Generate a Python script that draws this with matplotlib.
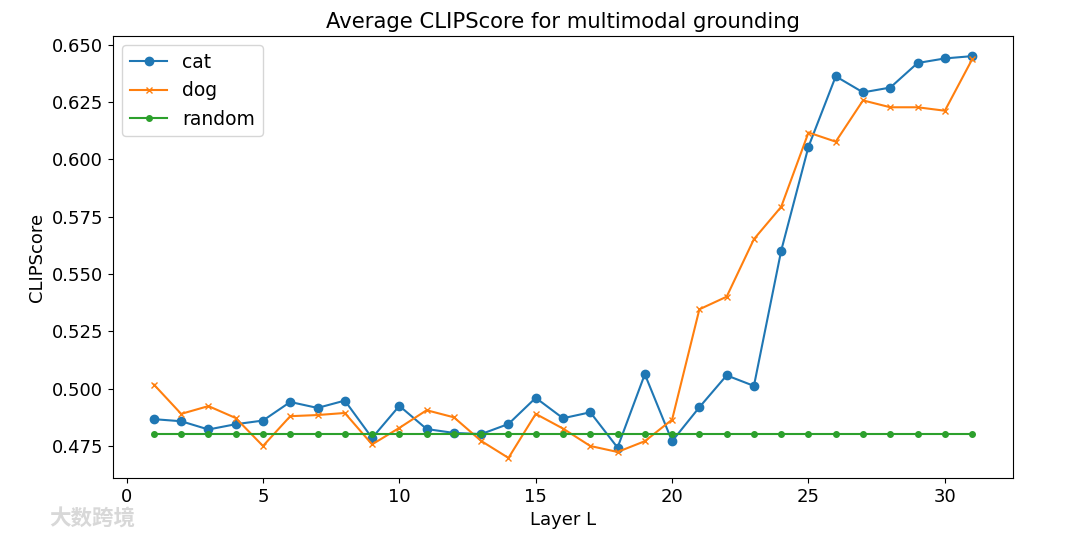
import matplotlib
matplotlib.use("Agg")
import matplotlib.pyplot as plt
import numpy as np

# 数据
layers = list(range(1, 32))
cat = [0.4867, 0.4858, 0.4822, 0.4845, 0.4861, 0.4942, 0.4916, 0.4948, 0.4785, 0.4925,
       0.4824, 0.4807, 0.4802, 0.4846, 0.4960, 0.4871, 0.4897, 0.4743, 0.5063, 0.4771,
       0.4919, 0.5058, 0.5012, 0.5602, 0.6055, 0.6362, 0.6292, 0.6313, 0.6420, 0.6440,
       0.6450]
dog = [0.5018, 0.4890, 0.4924, 0.4872, 0.4750, 0.4880, 0.4885, 0.4894, 0.4757, 0.4829,
       0.4906, 0.4875, 0.4772, 0.4698, 0.4890, 0.4826, 0.4750, 0.4724, 0.4771, 0.4865,
       0.5346, 0.5401, 0.5652, 0.5793, 0.6117, 0.6077, 0.6257, 0.6227, 0.6227, 0.6212,
       0.6436]
random_score = [0.4802] * 31

fig = plt.figure(figsize=(10.8, 5.38), dpi=100)
ax = fig.add_axes([0.1046, 0.1115, 0.8334, 0.8215])

ax.plot(layers, cat, marker="o", ms=6, label="cat")
ax.plot(layers, dog, marker="x", ms=5, label="dog")
ax.plot(layers, random_score, marker="o", ms=4, label="random")

ax.set_title("Average CLIPScore for multimodal grounding", fontsize=15.2)
ax.set_xlabel("Layer L", fontsize=13)
ax.set_ylabel("CLIPScore", fontsize=13)
ax.tick_params(labelsize=13)
ax.set_yticks([0.475, 0.5, 0.525, 0.55, 0.575, 0.6, 0.625, 0.65])
ax.yaxis.set_major_formatter(matplotlib.ticker.FormatStrFormatter("%.3f"))
ax.legend(loc="upper left", fontsize=13.5)

# 水印
fig.text(0.046, 0.015, "大数跨境", family=["Noto Sans CJK SC", "DejaVu Sans"],
         fontsize=15.5, color="#d8d8d8", fontweight="bold", va="bottom")

plt.savefig("out.png", dpi=100)
